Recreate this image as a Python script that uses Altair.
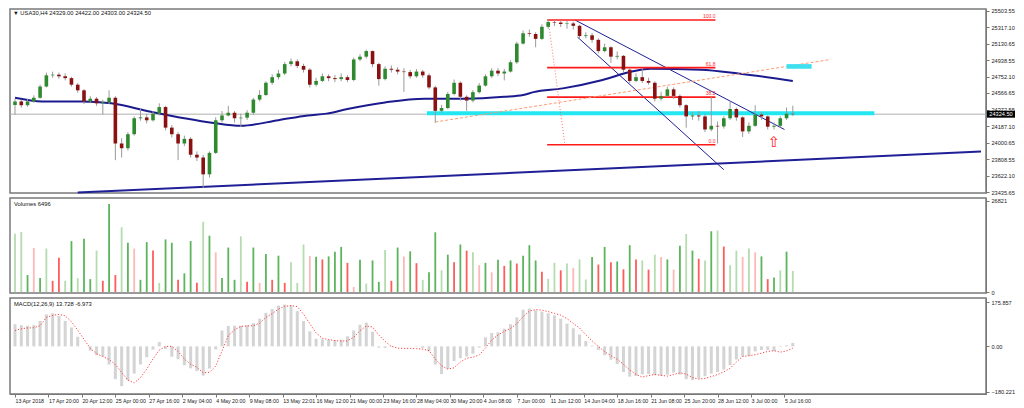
import altair as alt
import pandas as pd

W = 976
H_MAIN, H_VOL, H_MACD = 184, 95, 96
STEP = 3          # real H4 bars per drawn candle
X_MAX = 462       # bars visible across the plot
FONT = "Liberation Sans"
FS = 5.6

closes = [24470, 24427, 24470, 24512, 24640, 24768, 24775, 24757, 24736, 24661,
          24597, 24470, 24501, 24448, 24459, 24512, 23990, 23936, 24096, 24278,
          24288, 24255, 24331, 24406, 24171, 24096, 23990, 24043, 23862, 23830,
          23638, 23883, 24255, 24310, 24341, 24278, 24285, 24341, 24491, 24544,
          24683, 24747, 24789, 24896, 24928, 24875, 24832, 24661, 24704, 24757,
          24736, 24725, 24747, 24715, 24949, 24981, 25045, 24896, 24725, 24843,
          24832, 24811, 24805, 24757, 24811, 24768, 24630, 24363, 24395, 24555,
          24683, 24523, 24480, 24576, 24651, 24757, 24821, 24789, 24811, 24917,
          25130, 25248, 25240, 25184, 25322, 25376, 25370, 25354, 25360, 25333,
          25216, 25225, 25173, 25045, 25088, 24981, 24990, 24832, 24704, 24747,
          24704, 24683, 24501, 24533, 24608, 24533, 24427, 24299, 24310, 24299,
          24150, 24192, 24185, 24278, 24384, 24288, 24128, 24192, 24320, 24299,
          24182, 24192, 24278, 24329, 24324.5]
opens = [24430, 24470, 24427, 24470, 24512, 24640, 24768, 24775, 24757, 24736,
         24661, 24597, 24470, 24501, 24448, 24459, 24512, 23990, 23936, 24096,
         24278, 24288, 24255, 24331, 24406, 24171, 24096, 23990, 24043, 23862,
         23830, 23638, 23883, 24255, 24310, 24341, 24278, 24285, 24341, 24491,
         24544, 24683, 24747, 24789, 24896, 24928, 24875, 24832, 24661, 24704,
         24757, 24736, 24725, 24747, 24715, 24949, 24981, 25045, 24896, 24725,
         24843, 24832, 24811, 24805, 24757, 24811, 24768, 24630, 24363, 24395,
         24555, 24683, 24523, 24480, 24576, 24651, 24757, 24821, 24789, 24811,
         24917, 25130, 25248, 25240, 25184, 25322, 25376, 25370, 25354, 25360,
         25333, 25216, 25225, 25173, 25045, 25088, 24981, 24990, 24832, 24704,
         24747, 24704, 24683, 24501, 24533, 24608, 24533, 24427, 24299, 24310,
         24299, 24150, 24192, 24185, 24278, 24384, 24288, 24128, 24192, 24320,
         24299, 24182, 24192, 24278, 24329]
highs = [24500, 24490, 24500, 24540, 24660, 24800, 24810, 24800, 24790, 24750,
         24680, 24610, 24530, 24520, 24490, 24597, 24530, 24050, 24120, 24300,
         24390, 24330, 24360, 24448, 24420, 24200, 24120, 24080, 24060, 23900,
         23860, 23900, 24290, 24360, 24420, 24360, 24330, 24370, 24510, 24600,
         24700, 24780, 24830, 24920, 24960, 24950, 24900, 24850, 24740, 24790,
         24780, 24770, 24790, 24770, 24970, 25010, 25060, 25050, 24910, 24870,
         24880, 24860, 24850, 24830, 24840, 24830, 24790, 24650, 24430, 24580,
         24720, 24700, 24540, 24600, 24680, 24780, 24850, 24850, 24840, 24940,
         25150, 25280, 25290, 25260, 25350, 25410, 25400, 25395, 25390, 25380,
         25345, 25260, 25250, 25190, 25130, 25100, 25040, 25000, 24850, 24790,
         24850, 24740, 24700, 24580, 24640, 24630, 24550, 24440, 24350, 24360,
         24330, 24523, 24240, 24300, 24470, 24400, 24300, 24230, 24427, 24350,
         24310, 24230, 24300, 24400, 24422]
lows = [24320, 24400, 24410, 24455, 24500, 24630, 24740, 24730, 24710, 24640,
        24570, 24440, 24450, 24420, 24320, 24440, 23800, 23830, 23910, 24080,
        24250, 24220, 24240, 24310, 24140, 24060, 23800, 23960, 23830, 23790,
        23480, 23600, 23870, 24230, 24300, 24230, 24180, 24260, 24320, 24470,
        24530, 24660, 24720, 24770, 24870, 24850, 24800, 24630, 24640, 24690,
        24700, 24690, 24700, 24690, 24700, 24930, 24960, 24860, 24650, 24710,
        24800, 24780, 24580, 24730, 24740, 24740, 24610, 24225, 24340, 24380,
        24540, 24480, 24363, 24460, 24560, 24640, 24740, 24760, 24710, 24800,
        24900, 25120, 25210, 25088, 25170, 25300, 25330, 25320, 25300, 25290,
        25190, 25190, 25140, 25020, 25030, 24910, 24950, 24800, 24680, 24690,
        24680, 24660, 24470, 24480, 24520, 24500, 24400, 24170, 24260, 24250,
        24120, 24130, 23990, 24160, 24260, 24250, 24065, 24100, 24180, 24260,
        24150, 24150, 24170, 24260, 24303]
volumes = [17200, 17700, 5000, 13000, 4100, 12800, 3300, 10100, 3300, 15000,
           4100, 15700, 3800, 12200, 3300, 25900, 5000, 19100, 14500, 12800,
           3600, 14700, 12200, 2700, 15500, 14500, 3600, 5500, 15000, 2700,
           20700, 16600, 11700, 4100, 13100, 3600, 16400, 3000, 13100, 2700,
           11200, 3600, 10700, 2700, 8800, 2700, 14000, 10600, 10400, 9600,
           10500, 11900, 13300, 8600, 1500, 9500, 2500, 9300, 3000, 12400,
           3300, 13100, 10500, 12000, 8500, 3600, 5800, 17600, 6400, 11000,
           8800, 14000, 12200, 11700, 7900, 8600, 5800, 9500, 7700, 9300,
           8400, 10700, 13800, 9300, 6000, 3900, 8600, 6400, 8400, 7100,
           9600, 3700, 10300, 8100, 13300, 8800, 9000, 6700, 13800, 9600,
           9300, 6600, 11000, 10300, 9600, 6600, 13600, 17100, 12200, 9800,
           9300, 17900, 18100, 13400, 7900, 12200, 10300, 12800, 11700, 10500,
           3800, 4300, 6400, 11900, 6200]
vol_codes = list("ggGpGgRRgG" "gGGgRGRgGp" "GGRgGGRGGR" "gGpGGGgRGp"
                 "GRGRgggpGR" "GGGRpGgGGg" "RGpGRgGGgG" "RGRgpGpGRG"
                 "RGGGRggRgp" "ggGRGRGRGR" "gRgpGpGgGR" "gGgRggpgpG" "RGgGg")
vol_palette = {"G": "#5cb55c", "g": "#b4dcae", "R": "#ff5c5c", "p": "#ffb8b8"}
macd_hist = [88, 84, 82, 85, 101, 127, 131, 121, 101, 75,
             38, 0, -17, -35, -41, -72, -130, -158, -135, -108,
             -72, -43, -13, 17, -10, -41, -51, -75, -87, -98,
             -116, -88, -12, 63, 81, 82, 82, 84, 92, 110,
             133, 148, 162, 166, 163, 140, 100, 60, 30, 28,
             26, 25, 27, 40, 63, 86, 94, 58, -5, -6,
             -2, 0, 0, 0, -2, -6, -20, -72, -110, -90,
             -58, -47, -40, -29, -5, 36, 53, 56, 70, 88,
             115, 145, 150, 143, 138, 131, 123, 110, 90, 72,
             47, 21, 3, -14, -35, -53, -70, -102, -120, -118,
             -111, -110, -115, -117, -112, -104, -112, -130, -134, -128,
             -118, -108, -102, -92, -74, -52, -40, -38, -20, -14,
             -14, -19, -2, 4, 13.728]
macd_signal = [63, 70, 73, 74, 82, 115, 123, 127, 121, 98,
               64, 28, -8, -29, -40, -52, -72, -103, -134, -145,
               -124, -90, -50, -15, 0, 0, -20, -50, -71, -83,
               -105, -103, -78, -18, 42, 66, 79, 81, 82, 92,
               115, 130, 148, 159, 162, 158, 128, 90, 53, 32,
               27, 23, 21, 22, 36, 62, 81, 77, 45, 20,
               0, -7, -8, -8, -9, -11, -17, -50, -77, -90,
               -85, -62, -47, -43, -35, -6, 25, 45, 60, 71,
               90, 118, 140, 146, 144, 138, 131, 124, 110, 91,
               73, 46, 22, 0, -21, -37, -51, -71, -94, -111,
               -122, -116, -111, -115, -118, -112, -105, -110, -124, -130,
               -127, -120, -112, -101, -87, -62, -40, -37, -33, -27,
               -20, -17, -23, -18, -6.973]

ma_bar = [0, 13, 32, 46, 65, 81, 95, 108, 126, 140, 149, 159, 177, 196, 215,
          234, 243, 248, 262, 281, 295, 304, 328, 346, 372]
ma_val = [24512, 24470, 24470, 24448, 24352, 24278, 24224, 24192, 24256, 24310,
          24331, 24384, 24459, 24501, 24501, 24523, 24544, 24576, 24619, 24715,
          24811, 24843, 24832, 24789, 24704]

time_labels = ["13 Apr 2018", "17 Apr 20:00", "20 Apr 12:00", "25 Apr 00:00",
               "27 Apr 16:00", "2 May 04:00", "4 May 20:00", "9 May 08:00",
               "13 May 22:01", "16 May 12:00", "21 May 00:00", "23 May 16:00",
               "28 May 04:00", "30 May 20:00", "4 Jun 08:00", "7 Jun 00:00",
               "11 Jun 12:00", "14 Jun 04:00", "18 Jun 16:00", "21 Jun 08:00",
               "25 Jun 20:00", "28 Jun 12:00", "3 Jul 00:00", "5 Jul 16:00"]
LABEL_EVERY = 16
price_ticks = [25503.55, 25317.10, 25130.65, 24938.55, 24752.10, 24566.65,
               24372.55, 24187.10, 24000.65, 23808.55, 23622.10, 23435.65]
vol_ticks = [26821, 0]
macd_ticks = [175.857, 0, -180.221]

last_price = 24324.5
header_main = "\u25bc USA30,H4  24329.00 24422.00 24303.00 24324.50"
header_vol = "Volumes 6496"
header_macd = "MACD(12,26,9) 13.728 -6.973"

# drawn objects (bar index, price)
trend_names = ["support", "upper", "lower"]
trend_x0 = [30, 268, 269]
trend_y0 = [23430, 25397, 25205]
trend_x1 = [462, 368, 339]
trend_y1 = [23898, 24150, 23691]
trend_w = [2, 1, 1]
fib_x0, fib_x1 = 254.5, 335
fib_high, fib_low = 25400, 23975
fib_levels = [100.0, 61.8, 38.2, 0.0]
fib_diag_x = [255, 263]
orange_x = [201, 390]
orange_y = [24235, 24949]
cyan_x = [197, 411]
cyan_price = 24335
arrow_bar, arrow_price = 363, 24011
box_x = [369, 381]
box_y = [24843, 24896]

# ------------------------------------------------------------------
n = len(closes)
df = pd.DataFrame({
    "bar": [i * STEP for i in range(n)],
    "open": opens, "high": highs, "low": lows, "close": closes,
    "vol": volumes, "vcol": [vol_palette[c] for c in vol_codes],
    "hist": macd_hist, "signal": macd_signal,
})
df["ccol"] = ["#2f8a2f" if c >= o else "#8a1111" for o, c in zip(opens, closes)]

xscale = alt.Scale(domain=[0, X_MAX], nice=False, zero=False)
X0 = alt.X("bar:Q", scale=xscale, axis=None)

axis_common = dict(orient="right", title=None, grid=False, labelFontSize=FS,
                   labelFont=FONT, labelColor="#222", tickSize=3,
                   tickColor="#777", domainColor="#777", labelPadding=2,
                   labelFlush=False, labelOverlap=False)

ys_main = alt.Scale(domain=[23425, 25525], nice=False, zero=False)
ax_main = alt.Axis(values=price_ticks, format=".2f", **axis_common)


def YM(f):
    return alt.Y(f, scale=ys_main, axis=ax_main)


base = alt.Chart(df)
wicks = base.mark_rule(color="#9a9a9a", strokeWidth=1).encode(
    x=X0, y=YM("low:Q"), y2="high:Q")
bodies = base.mark_bar(width=3.6).encode(
    x=X0, y=YM("open:Q"), y2="close:Q",
    color=alt.Color("ccol:N", scale=None, legend=None))

ma_df = pd.DataFrame({"bar": ma_bar, "ma": ma_val})
ma = alt.Chart(ma_df).mark_line(color="#1b1b8f", strokeWidth=2,
                                interpolate="monotone").encode(x=X0, y=YM("ma:Q"))

cur_df = pd.DataFrame({"p": [last_price]})
cur_line = alt.Chart(cur_df).mark_rule(color="#b0b0b0", strokeWidth=1).encode(
    y=YM("p:Q"))

cyan_df = pd.DataFrame({"x0": [cyan_x[0]], "x1": [cyan_x[1]], "p": [cyan_price]})
cyan = alt.Chart(cyan_df).mark_rule(color="#22e6f0", strokeWidth=4).encode(
    x=alt.X("x0:Q", scale=xscale, axis=None), x2="x1:Q", y=YM("p:Q"))

tr_df = pd.DataFrame({"name": trend_names, "x0": trend_x0, "y0": trend_y0,
                      "x1": trend_x1, "y1": trend_y1, "w": trend_w})
trends = alt.Chart(tr_df).mark_rule(color="#1f1f96").encode(
    x=alt.X("x0:Q", scale=xscale, axis=None), x2="x1:Q",
    y=YM("y0:Q"), y2="y1:Q",
    strokeWidth=alt.StrokeWidth("w:Q", scale=None, legend=None))

fib_df = pd.DataFrame({
    "lvl": fib_levels,
    "label": [f"{v:.1f}" for v in fib_levels],
    "p": [fib_low + (fib_high - fib_low) * v / 100 for v in fib_levels],
    "x0": fib_x0, "x1": fib_x1})
fib_lines = alt.Chart(fib_df).mark_rule(color="#ff1a1a", strokeWidth=1.6).encode(
    x=alt.X("x0:Q", scale=xscale, axis=None), x2="x1:Q", y=YM("p:Q"))
fib_text = alt.Chart(fib_df).mark_text(
    color="#ff2a2a", fontSize=5, font=FONT, align="right", baseline="bottom",
    dy=-1).encode(x=alt.X("x1:Q", scale=xscale, axis=None), y=YM("p:Q"),
                  text="label:N")
diag_df = pd.DataFrame({"x0": [fib_diag_x[0]], "x1": [fib_diag_x[1]],
                        "y0": [fib_high], "y1": [fib_low]})
fib_diag = alt.Chart(diag_df).mark_rule(color="#ff5050", strokeWidth=0.8,
                                        strokeDash=[1, 2]).encode(
    x=alt.X("x0:Q", scale=xscale, axis=None), x2="x1:Q", y=YM("y0:Q"), y2="y1:Q")

or_df = pd.DataFrame({"x0": [orange_x[0]], "x1": [orange_x[1]],
                      "y0": [orange_y[0]], "y1": [orange_y[1]]})
orange = alt.Chart(or_df).mark_rule(color="#ff9a70", strokeWidth=1,
                                    strokeDash=[3, 2]).encode(
    x=alt.X("x0:Q", scale=xscale, axis=None), x2="x1:Q", y=YM("y0:Q"), y2="y1:Q")

box_df = pd.DataFrame({"x0": [box_x[0]], "x1": [box_x[1]],
                       "y0": [box_y[0]], "y1": [box_y[1]]})
box = alt.Chart(box_df).mark_rect(color="#3ee0f0").encode(
    x=alt.X("x0:Q", scale=xscale, axis=None), x2="x1:Q", y=YM("y0:Q"), y2="y1:Q")

arr_df = pd.DataFrame({"bar": [arrow_bar], "p": [arrow_price], "t": ["\u21e7"]})
arrow = alt.Chart(arr_df).mark_text(color="#ff2020", fontSize=15,
                                    font="DejaVu Sans").encode(
    x=X0, y=YM("p:Q"), text="t:N")

tag_df = pd.DataFrame({"p": [last_price], "t": [f"{last_price:.2f}"]})
tag_box = alt.Chart(tag_df).mark_point(
    shape="M-1,-0.25L1,-0.25L1,0.25L-1,0.25Z", filled=True, opacity=1,
    color="#000000", size=784).encode(x=alt.value(W + 15), y=YM("p:Q"))
tag_txt = alt.Chart(tag_df).mark_text(color="#ffffff", fontSize=FS,
                                      font=FONT).encode(
    x=alt.value(W + 15), y=YM("p:Q"), text="t:N")

hdr_df = pd.DataFrame({"t": [header_main]})
hdr = alt.Chart(hdr_df).mark_text(align="left", baseline="middle", fontSize=5.8,
                                  font=FONT, color="#111").encode(
    x=alt.value(3), y=alt.value(4), text="t:N")

main = alt.layer(cur_line, cyan, ma, trends, fib_lines, fib_diag, orange, box,
                 wicks, bodies, fib_text, arrow, tag_box, tag_txt, hdr).properties(
    width=W, height=H_MAIN)

# ------------------------------------------------------------------ volume
ys_vol = alt.Scale(domain=[-285, 27700], nice=False, zero=False)
ax_vol = alt.Axis(values=vol_ticks, format="d", **axis_common)
vol_bars = base.mark_bar(width=1.8).encode(
    x=X0, y=alt.Y("vol:Q", scale=ys_vol, axis=ax_vol),
    color=alt.Color("vcol:N", scale=None, legend=None))
vhdr = alt.Chart(pd.DataFrame({"t": [header_vol]})).mark_text(
    align="left", baseline="middle", fontSize=5.8, font=FONT, color="#111").encode(
    x=alt.value(4), y=alt.value(6), text="t:N")
vol = alt.layer(vol_bars, vhdr).properties(width=W, height=H_VOL)

# ------------------------------------------------------------------ MACD
ys_macd = alt.Scale(domain=[-189, 192], nice=False, zero=False)
ax_macd = alt.Axis(values=macd_ticks,
                   labelExpr="datum.value == 0 ? '0.00' : format(datum.value, '.3f')",
                   **axis_common)
label_js = "[" + ",".join(f"'{t}'" for t in time_labels) + "]"
ax_x = alt.Axis(values=[i * LABEL_EVERY for i in range(len(time_labels))],
                labelExpr=f"{label_js}[round(datum.value/{LABEL_EVERY})]",
                title=None, grid=False, labelFontSize=5.3, labelFont=FONT,
                labelColor="#222", labelAlign="left", labelPadding=1,
                labelFlush=False, labelOverlap=False, tickSize=3,
                tickColor="#777", domainColor="#777")
XB = alt.X("bar:Q", scale=xscale, axis=ax_x)
hist = base.mark_bar(width=3, color="#d4d4d4").encode(
    x=XB, y=alt.Y("hist:Q", scale=ys_macd, axis=ax_macd))
sig = base.mark_line(color="#ff4040", strokeWidth=1, strokeDash=[1.2, 1.8]).encode(
    x=XB, y=alt.Y("signal:Q", scale=ys_macd, axis=ax_macd))
mhdr = alt.Chart(pd.DataFrame({"t": [header_macd]})).mark_text(
    align="left", baseline="middle", fontSize=5.8, font=FONT, color="#111").encode(
    x=alt.value(4), y=alt.value(6), text="t:N")
macd = alt.layer(hist, sig, mhdr).properties(width=W, height=H_MACD)

chart = alt.vconcat(main, vol, macd, spacing=0).properties(
    padding=0, background="#ffffff"
).configure_view(stroke="#7a7a7a", strokeWidth=1.5)

chart.save("out.html", embed_options={"renderer": "svg", "actions": False})
